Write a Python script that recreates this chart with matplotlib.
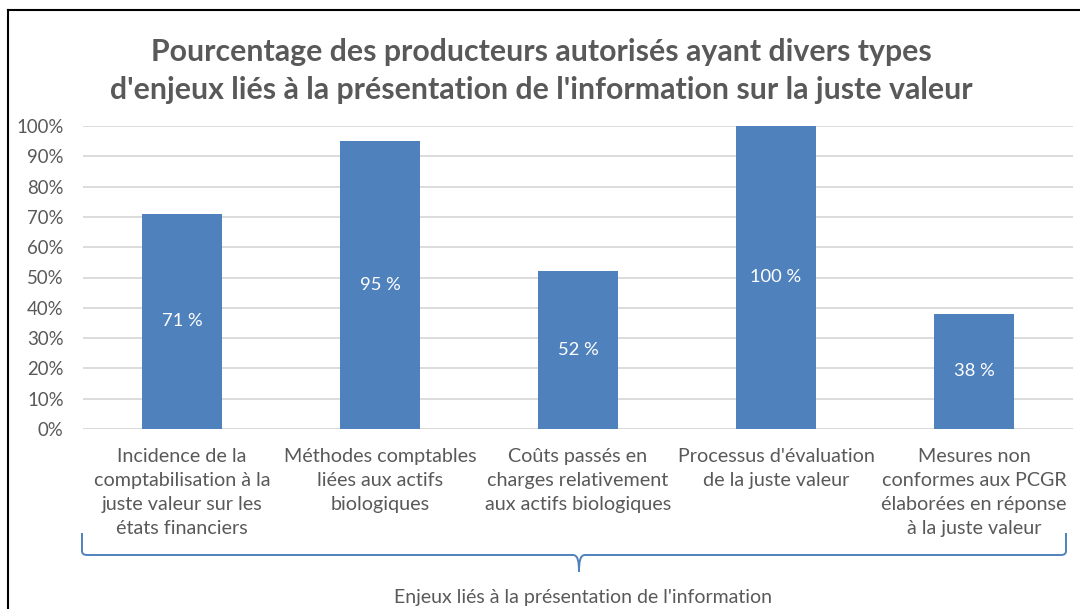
import matplotlib
matplotlib.use("Agg")
import matplotlib.pyplot as plt
from matplotlib.path import Path
from matplotlib.patches import PathPatch
from matplotlib.lines import Line2D

plt.rcParams['font.family'] = ['Lato', 'DejaVu Sans']

# données
categories = [
    "Incidence de la\ncomptabilisation à la\njuste valeur sur les\nétats financiers",
    "Méthodes comptables\nliées aux actifs\nbiologiques",
    "Coûts passés en\ncharges relativement\naux actifs biologiques",
    "Processus d'évaluation\nde la juste valeur",
    "Mesures non\nconformes aux PCGR\nélaborées en réponse\nà la juste valeur",
]
valeurs = [71, 95, 52, 100, 38]
yticks = [0, 10, 20, 30, 40, 50, 60, 70, 80, 90, 100]

titre = ("Pourcentage des producteurs autorisés ayant divers types\n"
         "d'enjeux liés à la présentation de l'information sur la juste valeur")
titre_axe = "Enjeux liés à la présentation de l'information"

gris = "#595959"
bleu = "#4F81BD"

W, H = 1080, 609
fig = plt.figure(figsize=(W / 100, H / 100), dpi=100)
ax = fig.add_axes([83 / W, 1 - 429 / H, 990 / W, 303 / H])

x = range(len(valeurs))
bars = ax.bar(x, valeurs, width=0.4, color=bleu, zorder=3)
for b, v in zip(bars, valeurs):
    ax.text(b.get_x() + b.get_width() / 2, v / 2, f"{v} %", color="white",
            ha="center", va="center", fontsize=13.2, zorder=4)

ax.set_xlim(-0.5, len(valeurs) - 0.5)
ax.set_ylim(0, 100)
ax.set_yticks(yticks)
ax.set_yticklabels([f"{t}%" for t in yticks])
ax.set_xticks(list(x))
ax.set_xticklabels(categories, linespacing=1.5)
ax.tick_params(axis="y", length=0, colors=gris, labelsize=13.4, pad=14)
ax.tick_params(axis="x", length=0, colors=gris, labelsize=14.2, pad=14)
ax.grid(axis="y", color="#D9D9D9", linewidth=1.3, zorder=0)
for s in ax.spines.values():
    s.set_visible(False)
ax.axhline(0, color="#D9D9D9", linewidth=1.3, zorder=2)

fig.text(541 / W, 1 - 71 / H, titre, ha="center", va="center", fontsize=21.8,
         fontweight="bold", color=gris, linespacing=1.42)
fig.text(583 / W, 1 - 597 / H, titre_axe, ha="center", va="center",
         fontsize=14, color=gris)

# accolade sous les catégories (coordonnées en pixels de la figure)
def px(xp, yp):
    return (xp / W, 1 - yp / H)

xl, xr, xm = 82, 1066, 579
yt, yh, ytip = 533, 555, 572
verts = [px(xl, yt), px(xl, yh - 4), px(xl, yh), px(xl + 5, yh),
         px(xm - 6, yh), px(xm - 1, yh), px(xm, ytip - 10), px(xm, ytip),
         px(xm, ytip - 10), px(xm + 1, yh), px(xm + 6, yh),
         px(xr - 5, yh), px(xr, yh), px(xr, yh - 4), px(xr, yt)]
codes = [Path.MOVETO, Path.LINETO, Path.CURVE3, Path.CURVE3,
         Path.LINETO, Path.CURVE4, Path.CURVE4, Path.CURVE4,
         Path.CURVE4, Path.CURVE4, Path.CURVE4,
         Path.LINETO, Path.CURVE3, Path.CURVE3, Path.LINETO]
fig.patches.append(PathPatch(Path(verts, codes), transform=fig.transFigure,
                             fill=False, edgecolor=bleu, linewidth=1.4))

# cadre noir
fig.add_artist(Line2D([8 / W, 1], [1 - 10 / H, 1 - 10 / H], color="black",
                      linewidth=1.5, transform=fig.transFigure))
fig.add_artist(Line2D([8 / W, 8 / W], [1 - 10 / H, 0], color="black",
                      linewidth=1.5, transform=fig.transFigure))

fig.savefig("out.png", dpi=100)
